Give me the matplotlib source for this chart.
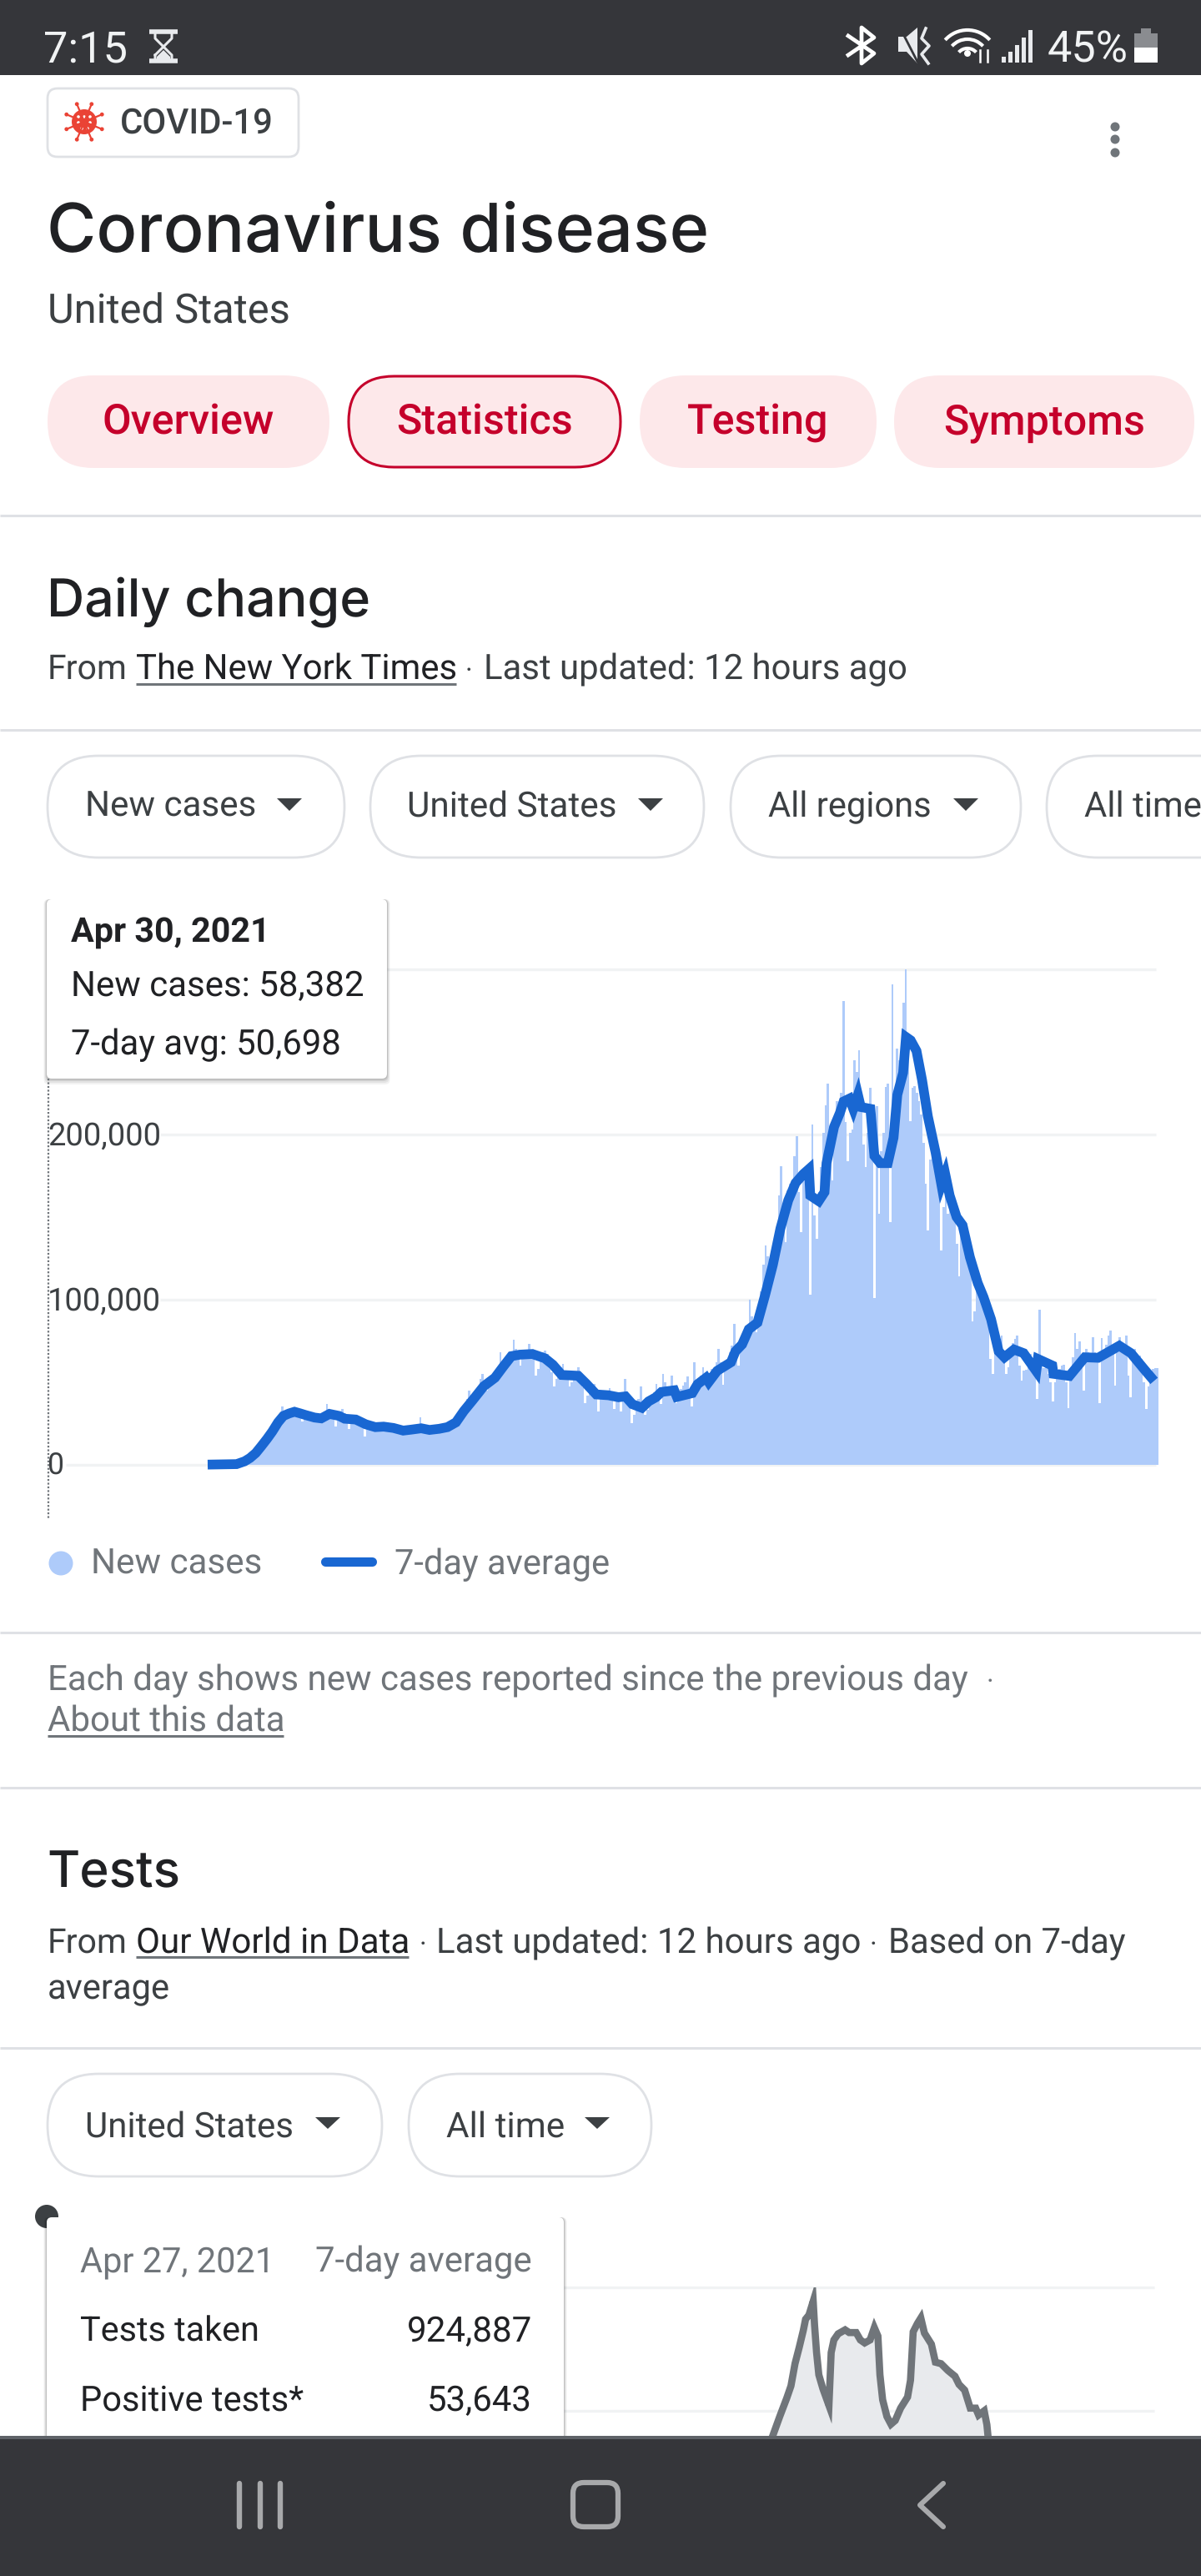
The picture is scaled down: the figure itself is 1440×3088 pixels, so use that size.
import matplotlib
matplotlib.use('Agg')
import matplotlib.pyplot as plt
from matplotlib.font_manager import FontProperties
from matplotlib.patches import Arc, Circle, FancyBboxPatch, Polygon, Rectangle
from matplotlib.textpath import TextPath
import numpy as np

plt.rcParams['text.hinting'] = 'none'

# daily new cases in thousands, one row per week, starting Sun Mar 1 2020
new_cases = [
    .1, .1, .1, .1, .1, .2, .2,
    .2, .2, .2, .3, .3, .5, .6,
    .7, 1, 1.5, 2, 3.5, 5, 6,
    7, 8, 10, 11, 13, 15, 17,
    19, 21, 24, 28, 35, 32, 33,
    30, 30, 31, 32, 32, 30, 26,
    28, 29, 30, 30, 29, 28, 27,
    26, 28, 29, 36.6, 33, 32, 30,
    23, 27, 29, 33.7, 31, 28, 21.7,
    25, 28, 29, 28, 27, 25, 17,
    22, 25, 24, 25, 24, 22, 20,
    21, 24, 25, 25, 23, 22, 20,
    19, 21, 22, 22, 21, 20, 19,
    21, 22, 23, 28.5, 23, 21, 19,
    20, 21, 22, 23, 23, 21, 20,
    21, 23, 24, 26, 25, 23, 24,
    27, 31, 36, 40, 45, 42, 36,
    38, 47, 52, 55, 50, 44.6, 48,
    50, 53, 55, 58, 68, 58, 57,
    60, 64, 68, 75.7, 70, 65, 60,
    64, 66, 68, 73, 68, 65, 54,
    58, 66, 68, 69, 67, 62, 56,
    47.5, 52, 56, 59, 61, 56, 53,
    47.5, 50, 54, 55, 59, 52, 47,
    37.4, 42, 47, 46, 48.7, 42, 32.4,
    40, 42, 44, 45, 46.3, 40, 33.5,
    39, 42, 32.4, 44, 51.7, 43, 36,
    25, 30, 34, 40, 47.5, 38, 30,
    33, 38, 42, 44, 48.7, 45, 36.6,
    54.8, 50, 47, 46, 54, 45, 37.4,
    40, 46, 48, 50, 53.4, 44, 35,
    62, 48, 50, 54, 58.8, 52, 47.5,
    54, 58, 58, 62, 70, 62, 48.4,
    58, 64, 68, 72, 85, 70, 60,
    70, 76, 78, 84, 100, 90, 82,
    80, 88, 105, 121, 132.6, 126, 118,
    118, 130, 139, 163, 181, 150, 135,
    166, 170, 160, 187, 198.7, 165, 141,
    172, 180, 178, 103, 206, 151, 137,
    165, 180, 201, 217.7, 231, 205, 172,
    205, 220, 215, 225, 280.6, 207.6, 184,
    201, 203, 245, 238, 251, 215, 194,
    180, 201, 228, 210, 101, 217, 152,
    190, 201, 228.7, 231, 147, 291, 225,
    252, 245, 240, 280, 300.7, 250, 208,
    228, 229.5, 225, 220, 212, 195, 170,
    142, 185, 188, 190, 190, 191.6, 129.6,
    156, 165, 152, 160, 165.5, 158, 134,
    114, 142, 148, 145, 132, 128, 87,
    93, 105, 108, 104, 100, 95, 90,
    64, 55, 72, 74, 76, 78, 62,
    55, 59, 65, 73.6, 76, 78, 60,
    51, 57, 57.6, 64, 67, 64, 58,
    40, 94, 65, 58.5, 60, 55, 50,
    38, 50, 56, 58, 60, 60.5, 50,
    34, 52, 65, 79.5, 70, 74.5, 66,
    44.7, 70, 68, 66, 77, 68, 66,
    37, 76.7, 68, 72.8, 78, 81, 70,
    48, 68, 77, 74, 72, 78, 53.8,
    41, 64, 70, 66, 66, 64, 50,
    33.5, 47.5, 56, 58, 58.4, 58.382,
]

# 7-day average: day number and thousands
avg_days = [0, 13, 16.6, 19, 21.6, 24, 26.6, 29, 31.6, 34, 36.6, 39, 41.6, 44, 48, 51, 54.7, 59,
            61.5, 66.5, 71, 75.3, 79, 83.4, 87.8, 91.5, 95.9, 99.6, 104, 107.7, 111.5, 115, 119,
            124, 129, 132.7, 136.4, 140.2, 145.8, 151.4, 155, 159, 166.4, 170, 174.5, 180, 184.5,
            187.6, 190.7, 195, 198, 201.3, 203.8, 209.5, 210.7, 217.6, 220, 223.8, 225, 228.8,
            235, 237, 240, 243, 246.9, 250.3, 253.8, 257.2, 260.7, 264, 267.5, 270, 270.6, 274.4,
            277, 277.9, 281.3, 283.9, 285.6, 288.2, 289.9, 292, 293.3, 297.6, 299.4, 302, 305.4,
            308, 309.7, 312.3, 313.6, 315.7, 318.3, 320.8, 323.4, 326.9, 329.5, 331.2, 333.2,
            336.3, 339, 342.3, 345.8, 348.4, 351.8, 355.2, 357.8, 362.1, 366.4, 372.1, 372.8,
            379.3, 379.8, 387, 393.9, 399.9, 409.4, 414.6, 420.6, 425]
avg_vals = [0, .3, 2, 4, 7, 11, 15.5, 20, 25.6, 29.5, 31, 32, 31, 30, 28.5, 28, 30.7, 29.5,
            27.8, 27.3, 24.4, 22.7, 23, 22.2, 20.6, 21.2, 22, 21, 21.7, 22.7, 25.6, 32.4, 39,
            47.5, 52.6, 59.3, 65.7, 66.6, 67, 64.4, 60.5, 54.3, 53.8, 49, 42.5, 42, 40.8,
            41.3, 36.6, 34.4, 38.3, 40.8, 44, 45, 41, 43.3, 48.7, 52.6, 50, 56.8,
            62, 68.6, 72.8, 82, 86, 102.6, 121, 143, 160, 170.6, 176, 179, 163, 159.6,
            165, 182.6, 204.6, 213, 220, 221.7, 215.5, 224, 216.6, 215.5, 187, 182.6, 182.6,
            198, 224, 237.4, 259, 257, 250.6, 233, 211, 189, 169.5, 176, 163,
            150, 145, 125.6, 110, 101.5, 88, 68.6, 65, 69.7, 67.5, 56.6, 64,
            60, 55, 53.7, 65, 64.7, 72, 67.5, 57.7, 50.7]

# tests, only the stretch above the navigation bar is visible
tests_days = [251.5, 254.6, 257.7, 259.6, 261.4, 263.3, 265.1, 266.1, 267.6, 269.5, 270.1, 271, 272,
              273.8, 276.5, 277.5, 278.7, 280.6, 283.7, 285.5, 288.6, 290.5, 292.4, 294.8, 296.7,
              298.3, 299.2, 300.4, 302.3, 304.1, 306, 308.4, 311.5, 312.8, 314, 315.9, 317.4,
              319, 322.1, 323.9, 326.4, 329.5, 332.6, 334.4, 336.9, 339.4, 341.8, 343.1, 345.6,
              346.8, 347.4]
tests_vals = [1399, 1477, 1551, 1601, 1691, 1758, 1826, 1871, 1888, 1944, 1848, 1736, 1646,
              1590, 1522, 1736, 1787, 1812, 1828, 1817, 1817, 1787, 1775, 1787, 1837,
              1803, 1646, 1545, 1477, 1446, 1461, 1511, 1556, 1624, 1820, 1854, 1876,
              1815, 1770, 1697, 1691, 1663, 1640, 1607, 1584, 1511, 1511, 1483, 1500,
              1444, 1388]

y_ticks = [0, 100, 200, 300]
y_tick_labels = ['0', '100,000', '200,000']
tests_ticks = [1500, 2000]

BLUE = '#1967d2'
LIGHT_BLUE = '#aecbfa'
GRID = '#f1f3f4'
DIVIDER = '#dfe1e5'
DARK = '#202124'
TEXT = '#3c4043'
GRAY = '#70757a'
RED = '#c5002b'
BAR_DARK = '#35363a'
W, H = 1440, 3088

fig = plt.figure(figsize=(W / 100, H / 100), dpi=100)
renderer = fig.canvas.get_renderer()


def chart_axes(top, bottom, start, scale):
    ax = fig.add_axes([0, 1 - bottom / H, 1, (bottom - top) / H])
    ax.set_xlim((0 - start) / scale, (W - start) / scale)
    ax.axis('off')
    return ax


# cases chart
CASE_X0, CASE_SCALE = 249, 2.67
ax = chart_axes(1162, 1755.7, CASE_X0, CASE_SCALE)
ax.set_ylim(0, 300)
grid_from = [79, 192, 192, 464]
for tick, start in zip(y_ticks, grid_from):
    ax.plot([(start - CASE_X0) / CASE_SCALE, (1386 - CASE_X0) / CASE_SCALE], [tick, tick],
            color=GRID, lw=2.4, clip_on=False, zorder=1, solid_capstyle='butt')
ax.stairs(new_cases, np.arange(len(new_cases) + 1) + 1, fill=True, color=LIGHT_BLUE, linewidth=0, zorder=2)
ax.plot(avg_days, avg_vals, color=BLUE, lw=8.4, solid_joinstyle='miter', solid_capstyle='butt',
        clip_on=False, zorder=3)

# tests chart, the axes stop at the nav bar
TEST_X0, TEST_SCALE = 249, 2.694
ax2 = chart_axes(2742, 2922, TEST_X0, TEST_SCALE)
ax2.set_ylim(1392, 2000)
for tick in tests_ticks:
    ax2.plot([(676 - TEST_X0) / TEST_SCALE, (1384 - TEST_X0) / TEST_SCALE], [tick, tick],
             color=GRID, lw=2.4, clip_on=False, zorder=1, solid_capstyle='butt')
ax2.fill_between(tests_days, tests_vals, 1300, color='#e8eaed', linewidth=0, zorder=2)
ax2.plot(tests_days, tests_vals, color=GRAY, lw=6.2, solid_joinstyle='miter', zorder=3)

# everything else is drawn in page pixels on top
ui = fig.add_axes([0, 0, 1, 1], zorder=5)
ui.set_xlim(0, W)
ui.set_ylim(H, 0)
ui.axis('off')


def fit_size(s, width, family='Roboto', weight='normal'):
    fp = FontProperties(family=family, weight=weight)
    path = TextPath((0, 0), s, size=100, prop=fp)
    # size in points, the page is 100 dpi
    return width / path.get_extents().width * 100 * 0.72


def label(x, y, s, width, color=DARK, family='Roboto', weight='normal', ha='left', size=None):
    if size is not None:
        return ui.text(x, y, s, fontsize=size, color=color, family=family, weight=weight, ha=ha, va='baseline')
    t = ui.text(x, y, s, fontsize=fit_size(s, width, family, weight), color=color, family=family,
                weight=weight, ha=ha, va='baseline')
    # correct for what agg really lays out, its box is a bit wider than the ink
    got = t.get_window_extent(renderer).width
    t.set_fontsize(t.get_fontsize() * (width + 2) / got)
    return t


def rule(y, x0=0, x1=W, color=DIVIDER, lw=2.2):
    ui.plot([x0, x1], [y, y], color=color, lw=lw, solid_capstyle='butt')


def pill(x0, x1, y0, y1, face='white', edge=DIVIDER, lw=2.0, radius=None):
    r = (y1 - y0) / 2 if radius is None else radius
    ui.add_patch(FancyBboxPatch((x0, y0), x1 - x0, y1 - y0, boxstyle='round,pad=0,rounding_size=%f' % r,
                                facecolor=face, edgecolor=edge, linewidth=lw))


def arrow(cx, y0, y1, half=15):
    ui.add_patch(Polygon([(cx - half, y0), (cx + half, y0), (cx, y1)], closed=True, color=TEXT, lw=0))


def tooltip(x0, x1, y0, y1):
    for grow, alpha in [(7, .05), (5, .06), (3, .08), (1.5, .1)]:
        ui.add_patch(FancyBboxPatch((x0 - grow / 2, y0), x1 - x0 + grow, y1 - y0 + grow,
                                    boxstyle='round,pad=0,rounding_size=6', facecolor='black',
                                    edgecolor='none', alpha=alpha))
    ui.add_patch(FancyBboxPatch((x0, y0), x1 - x0, y1 - y0, boxstyle='round,pad=0,rounding_size=6',
                                facecolor='white', edgecolor='none'))


# status bar
ui.add_patch(Rectangle((0, 0), W, 90, color=BAR_DARK, lw=0))
label(52, 74.5, '7:15', 99, color='#f1f3f4')
ui.plot([179, 213], [38, 38], color='#e8eaed', lw=4, solid_capstyle='butt')
ui.plot([179, 213], [73, 73], color='#e8eaed', lw=4, solid_capstyle='butt')
ui.plot([186, 186, 206, 206, 186, 186], [38, 46, 66, 73, 73, 66], color='#e8eaed', lw=2.2)
ui.plot([206, 206, 186], [38, 46, 66], color='#e8eaed', lw=2.2)
ui.add_patch(Polygon([(188, 73), (204, 73), (204, 68), (196, 60), (188, 68)], closed=True, color='#e8eaed', lw=0))
ui.plot([1017, 1048, 1033, 1033, 1048, 1017], [43, 64, 76, 33, 45, 66], color='white', lw=3.4)
ui.add_patch(Polygon([(1077, 44), (1087, 44), (1100, 33), (1100, 76), (1087, 62), (1077, 62)], closed=True,
                     color='#e8eaed', lw=0))
ui.plot([1080, 1100], [35, 74], color=BAR_DARK, lw=2)
ui.plot([1110, 1105, 1114, 1105, 1113], [34, 46, 55, 65, 76], color='#e8eaed', lw=2.6)
for r in [36, 25, 14]:
    ui.add_patch(Arc((1160, 72), 2 * r, 2 * r, theta1=222, theta2=318, color='white', lw=3))
ui.add_patch(Circle((1160, 64), 4, color='white', lw=0))
ui.plot([1175, 1175], [60, 74], color='white', lw=1.8)
ui.plot([1184, 1184], [60, 74], color='white', lw=1.8)
for i, top in enumerate([68, 62, 54, 45, 36]):
    ui.add_patch(Rectangle((1201 + i * 8, top), 4.5, 75 - top, color='#e8eaed', lw=0))
label(1256, 74.5, '45%', 95, color='#f1f3f4')
ui.add_patch(Rectangle((1360, 40), 28, 18, color='#8a8c90', lw=0))
ui.add_patch(Rectangle((1368, 34), 12, 7, color='#8a8c90', lw=0))
ui.add_patch(Rectangle((1360, 57), 28, 18, color='white', lw=0))

# header
pill(57, 358, 106, 188, radius=12)
ui.add_patch(Circle((101, 146), 15, color='#ea4335', lw=0))
for a in np.deg2rad(np.arange(0, 360, 45) + 22.5):
    ui.plot([101, 101 + 22 * np.cos(a)], [146, 146 + 22 * np.sin(a)], color='#ea4335', lw=1.6)
    ui.add_patch(Circle((101 + 23 * np.cos(a), 146 + 23 * np.sin(a)), 2.4, color='#ea4335', lw=0))
for dx, dy in [(-7, -6), (0, -6), (7, -6), (-7, 1), (0, 1), (7, 1), (-3, 8), (4, 8)]:
    ui.add_patch(Circle((101 + dx, 146 + dy), 1.8, color='white', lw=0))
label(144, 160, 'COVID-19', 182, color=TEXT, weight='medium')
for y in [152, 167, 183]:
    ui.add_patch(Circle((1337, y), 5.5, color=GRAY, lw=0))
label(56, 302, 'Coronavirus disease', 792, family='Inter', weight='medium')
label(57, 388, 'United States', 289, color=TEXT)

tabs = [('Overview', 57, 395), ('Statistics', 418, 744), ('Testing', 767, 1051), ('Symptoms', 1072, 1432)]
tab_size = fit_size('Symptoms', 238, weight='medium')
for name, x0, x1 in tabs:
    if name == 'Statistics':
        pill(x0, x1, 451, 560, face='#fde8ea', edge=RED, lw=2.2)
    else:
        pill(x0, x1, 450, 561, face='#fde8ea', edge='none', lw=0)
    label((x0 + x1) / 2, 520, name, 0, color=RED, weight='medium', ha='center', size=tab_size)
rule(618)

# daily change header
label(56, 738, 'Daily change', 386, family='Inter', weight='medium')
label(57, 814, 'From', 94, color=TEXT)
label(163, 814, 'The New York Times', 384)
rule(820, 163, 547, color=GRAY, lw=2.2)
label(558, 814, '\u00b7', 0, color=TEXT, size=24)
label(580, 814, 'Last updated: 12 hours ago', 506, color=TEXT)
rule(875)

chips = [('New cases', 57, 413, 102, 203, 347), ('United States', 444, 844, 488, 249, 780),
         ('All regions', 876, 1224, 921, 194, 1158), ('All time', 1255, 1500, 1300, 139, None)]
for name, x0, x1, tx, tw, ax_x in chips:
    pill(x0, x1, 906, 1028)
    label(tx, 979, name, tw, color=TEXT)
    if ax_x:
        arrow(ax_x, 957, 972)

# y labels and hover line for the cases chart
for s, y, w in zip(y_tick_labels, [1768, 1571, 1373], [18, 134, 134]):
    label(57, y, s, w, color=TEXT)
ui.plot([57.5, 57.5], [1293, 1820], color=GRAY, lw=1.6, ls=(0, (1, 1)))
tooltip(56, 464, 1078, 1293)
label(85, 1129, 'Apr 30, 2021', 237, weight='bold')
label(85, 1194, 'New cases: 58,382', 349)
label(85, 1264, '7-day avg: 50,698', 322)

# legend
ui.add_patch(Circle((73, 1874), 14.5, color=LIGHT_BLUE, lw=0))
label(109, 1887, 'New cases', 203, color=GRAY)
ui.plot([390, 446], [1872, 1872], color=BLUE, lw=8, solid_capstyle='round')
label(473, 1887, '7-day average', 256, color=GRAY)
rule(1957)

label(57, 2026, 'Each day shows new cases reported since the previous day', 1101, color=GRAY)
label(1183, 2026, '\u00b7', 0, color=GRAY, size=24)
label(57, 2075, 'About this data', 283, color=GRAY)
rule(2081, 57, 340, color=GRAY, lw=2.2)
rule(2143)

# tests header
label(56, 2262, 'Tests', 158, family='Inter', weight='medium')
label(57, 2341, 'From', 94, color=TEXT)
label(163, 2341, 'Our World in Data', 327)
rule(2346, 163, 490, color=GRAY, lw=2.2)
label(503, 2341, '\u00b7', 0, color=TEXT, size=24)
label(523, 2341, 'Last updated: 12 hours ago', 507, color=TEXT)
label(1043, 2341, '\u00b7', 0, color=TEXT, size=24)
label(1065, 2341, 'Based on 7-day', 283, color=TEXT)
label(57, 2396, 'average', 145, color=TEXT)
rule(2455)

for name, x0, x1, tx, tw, ax_x in [('United States', 57, 458, 102, 248, 393), ('All time', 490, 781, 535, 140, 716)]:
    pill(x0, x1, 2486, 2609)
    label(tx, 2562, name, tw, color=TEXT)
    arrow(ax_x, 2538, 2552)

ui.add_patch(Circle((56, 2657), 14, color=TEXT, lw=0))
tooltip(56, 676, 2658, 2960)
label(96, 2723, 'Apr 27, 2021', 231, color=GRAY)
label(638, 2723, '7-day average', 258, color=GRAY, ha='right')
label(96, 2807, 'Tests taken', 213)
label(638, 2807, '924,887', 148, ha='right')
label(96, 2890, 'Positive tests*', 266)
label(638, 2890, '53,643', 124, ha='right')

# nav bar
ui.add_patch(Rectangle((0, 2920), W, H - 2920, color=BAR_DARK, lw=0))
ui.add_patch(Rectangle((0, 2920), W, 4, color='#5f6368', lw=0))
for x in [287, 312, 336]:
    ui.plot([x, x], [2977, 3029], color='#a8a9ab', lw=4.6, solid_capstyle='round')
pill(687, 741, 2976, 3029, face=BAR_DARK, edge='#a8a9ab', lw=4.5, radius=13)
ui.plot([1131, 1103, 1131], [2977, 3003, 3029], color='#a8a9ab', lw=4.4, solid_capstyle='round',
        solid_joinstyle='round')

fig.savefig('out.png', dpi=100)
